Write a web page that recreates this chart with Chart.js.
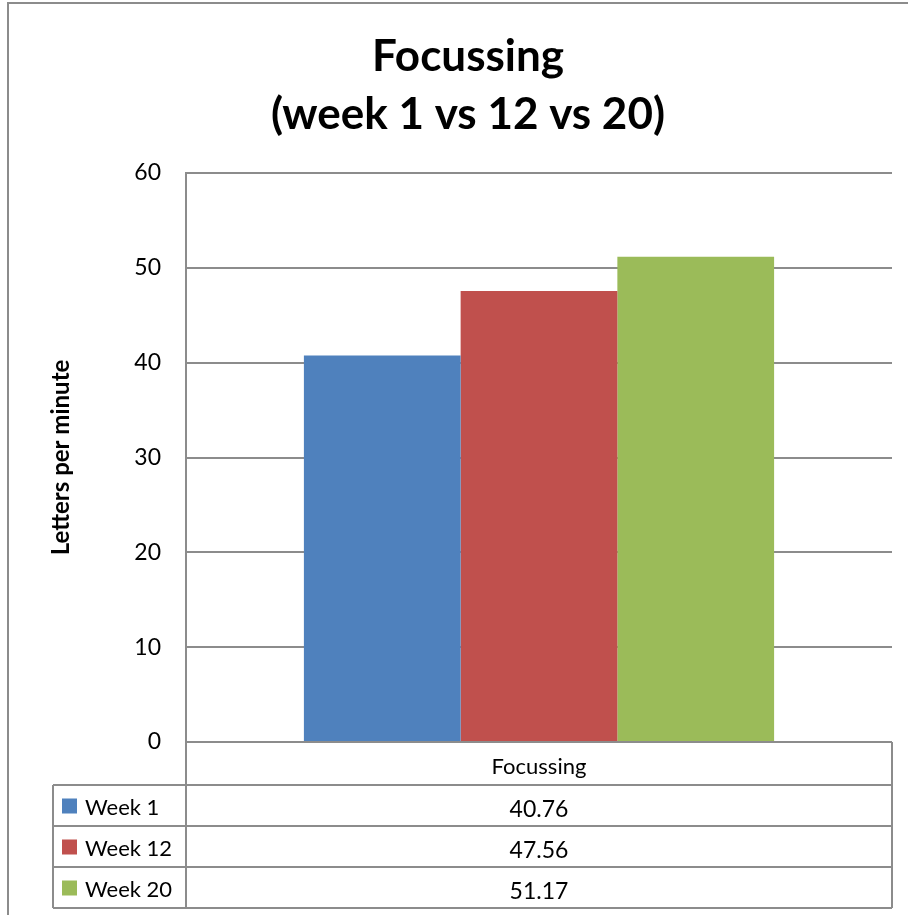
<!DOCTYPE html>
<html>
<head>
<meta charset="utf-8">
<script src="https://cdn.jsdelivr.net/npm/chart.js@4"></script>
<style>
  html, body { margin: 0; padding: 0; background: #fff; }
  #wrap { width: 908px; height: 915px; position: relative; }
</style>
</head>
<body>
<div id="wrap"><canvas id="c"></canvas></div>
<script>
// Chart data
const categories = ['Focussing'];
const seriesNames = ['Week 1', 'Week 12', 'Week 20'];
const week1 = [40.76];
const week12 = [47.56];
const week20 = [51.17];
const seriesColors = ['#4F81BD', '#C0504D', '#9BBB59'];
const yMin = 0, yMax = 60, yStep = 10;

const FONT = 'Lato, "Open Sans", sans-serif';
const LINE = '#8c8c8c';

// Frame around the chart and the data table underneath the plot
const dataTable = {
  id: 'dataTable',
  beforeDraw(chart) {
    const ctx = chart.ctx;
    ctx.save();
    ctx.fillStyle = '#fff';
    ctx.fillRect(0, 0, chart.width, chart.height);
    ctx.strokeStyle = LINE;
    ctx.lineWidth = 2;
    ctx.beginPath();
    ctx.moveTo(8, chart.height);
    ctx.lineTo(8, 3);
    ctx.lineTo(chart.width, 3);
    ctx.stroke();
    ctx.restore();
  },
  afterDraw(chart) {
    const ctx = chart.ctx;
    const area = chart.chartArea;
    const xs = chart.scales.x;
    const colLeft = area.left - 133;
    const headerBottom = area.bottom + 43;
    const rowH = 41;
    const rows = chart.data.datasets.length;
    const tableBottom = headerBottom + rowH * rows;

    ctx.save();
    ctx.strokeStyle = LINE;
    ctx.lineWidth = 2;
    ctx.beginPath();
    ctx.moveTo(area.left, area.bottom);
    ctx.lineTo(area.left, tableBottom);
    ctx.moveTo(area.right, area.bottom);
    ctx.lineTo(area.right, tableBottom);
    ctx.moveTo(colLeft, headerBottom);
    ctx.lineTo(colLeft, tableBottom);
    for (let i = 0; i <= rows; i++) {
      const y = headerBottom + rowH * i;
      ctx.moveTo(colLeft, y);
      ctx.lineTo(area.right, y);
    }
    ctx.stroke();

    ctx.fillStyle = '#000';
    ctx.textBaseline = 'middle';
    chart.data.datasets.forEach((ds, i) => {
      const cy = headerBottom + rowH * i + rowH / 2 + 2;
      // legend key
      ctx.fillStyle = ds.backgroundColor;
      ctx.fillRect(colLeft + 9, cy - 9, 15, 15);
      ctx.fillStyle = '#000';
      ctx.textAlign = 'left';
      ctx.font = '22px ' + FONT;
      ctx.fillText(ds.label, colLeft + 32, cy);
      // values per category
      ctx.font = '23px ' + FONT;
      ds.data.forEach((v, j) => {
        ctx.textAlign = 'center';
        ctx.fillText(v.toFixed(2), xs.getPixelForValue(j), cy + 2);
      });
    });
    ctx.restore();
  }
};

const seriesData = [week1, week12, week20];

new Chart(document.getElementById('c'), {
  type: 'bar',
  data: {
    labels: categories,
    datasets: seriesNames.map((name, i) => ({
      label: name,
      data: seriesData[i],
      backgroundColor: seriesColors[i],
      borderWidth: 0,
      categoryPercentage: 0.666,
      barPercentage: 1.0
    }))
  },
  options: {
    responsive: true,
    maintainAspectRatio: false,
    animation: false,
    layout: { padding: { left: 44, right: 16, top: 0, bottom: 0 } },
    plugins: {
      legend: { display: false },
      tooltip: { enabled: false },
      title: {
        display: true,
        text: ['Focussing', '(week 1 vs 12 vs 20)'],
        color: '#000',
        font: { family: FONT, size: 44, weight: 'bold', lineHeight: 58 / 44 },
        padding: { top: 28, bottom: 29 }
      }
    },
    scales: {
      x: {
        grid: { display: false, drawTicks: false },
        border: { display: false },
        ticks: { color: '#000', font: { family: FONT, size: 22 }, padding: 12 },
        afterFit(scale) { scale.height = 173; }
      },
      y: {
        min: yMin,
        max: yMax,
        ticks: { stepSize: yStep, color: '#000', font: { family: FONT, size: 23 }, padding: 25 },
        grid: { color: LINE, lineWidth: 2, drawTicks: false },
        border: { display: true, color: LINE, width: 2 },
        title: {
          display: true,
          text: 'Letters per minute',
          color: '#000',
          font: { family: FONT, size: 24, weight: 'bold', lineHeight: 1.2 },
          padding: { top: 3, bottom: 0 }
        },
        afterFit(scale) { scale.width = 142; }
      }
    }
  },
  plugins: [dataTable]
});
</script>
</body>
</html>
